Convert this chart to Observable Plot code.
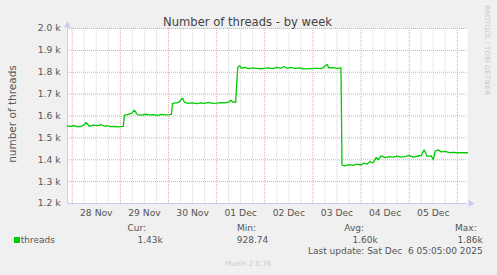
<!DOCTYPE html>
<html><head><meta charset="utf-8">
<script src="https://cdn.jsdelivr.net/npm/d3@7"></script>
<script src="https://cdn.jsdelivr.net/npm/@observablehq/plot@0.6"></script>
<style>
body{margin:0;background:#f0f0f0;}
#chart{width:497px;height:275px;background:#f0f0f0;}
svg text{white-space:pre;}
</style></head><body><div id="chart"></div>
<script>
const title = "Number of threads - by week";
const yLabel = "number of threads";
const seriesName = "threads";
const sideNote = "RRDTOOL / TOBI OETIKER";
const footer = "Munin 2.0.76";
const lastUpdate = "Last update: Sat Dec  6 05:05:00 2025";
// hours since 28 Nov 00:00 (UTC)
const hours = [-2.35,-1,1,3,5,6,7,8.5,10.5,12.5,14.5,16.5,17,19,21,23,25.5,26,27.5,29.5,31,32.5,34.5,36.5,38.5,40.5,42.5,44.5,46.5,48.5,49.5,50,52,53.5,55,56,58,60,62,64,66,68,70,72,74,76,78,79,80,81.5,82.5,83.5,84.5,86,88,90,92,94,96,98,100,102,104,105.5,107,109,111,113,115,117,119,121,123,124.5,126,127,128,130,132,134,134.5,136,138,140,142,144,145.5,147,148.5,150,151.5,152.5,154,156,158,160,162,164,166,168,170,172,174,175.5,177,179,180,181,182.5,184,186,188,190,192,194,197.08];
const threads = [1555,1552,1556,1550,1555,1560,1570,1553,1558,1556,1560,1552,1556,1551,1552,1550,1553,1604,1606,1612,1626,1606,1604,1608,1605,1606,1603,1607,1605,1606,1608,1658,1660,1665,1682,1662,1658,1660,1657,1660,1658,1662,1658,1659,1661,1660,1663,1672,1664,1662,1822,1830,1818,1822,1817,1820,1818,1816,1818,1820,1817,1822,1818,1826,1818,1822,1818,1820,1816,1815,1817,1818,1818,1817,1828,1836,1820,1821,1818,1820,1376,1372,1378,1374,1380,1376,1385,1380,1392,1386,1410,1400,1418,1410,1414,1412,1417,1412,1414,1420,1412,1416,1420,1445,1415,1418,1400,1440,1445,1436,1438,1433,1434,1432,1432,1432];
const yTicks = [1200,1300,1400,1500,1600,1700,1800,1900,2000];
const dayTickHours = [12,36,60,84,108,132,156,180];
const dayTickLabels = ["28 Nov","29 Nov","30 Nov","01 Dec","02 Dec","03 Dec","04 Dec","05 Dec"];
const legendHeads = ["Cur:","Min:","Avg:","Max:"];
const legendValues = ["1.43k","928.74","1.60k","1.86k"];
const startHour = -2.35, endHour = 197.08;

const base = Date.UTC(2025,10,28);
const t = h => new Date(base + h*3600e3);
const data = hours.map((h,i) => ({time: t(h), value: threads[i]}));
const minorGrid = d3.range(0, 197, 6).filter(h => h % 24 !== 0);
const majorGrid = d3.range(0, 197, 24);
const fmtY = d => (d/1000).toFixed(1) + " k";
const txt = "#555";

const plot = Plot.plot({
  width: 497, height: 275,
  marginLeft: 67, marginRight: 30, marginTop: 28, marginBottom: 72,
  style: {fontFamily: "'DejaVu Sans', sans-serif", background: "#f0f0f0", overflow: "visible"},
  x: {type: "utc", domain: [t(startHour), t(endHour)], axis: null},
  y: {domain: [1200, 2000], axis: null},
  marks: [
    Plot.frame({fill: "white", stroke: null}),
    Plot.ruleX(minorGrid, {x: h => t(h), stroke: "#d4d4d4", strokeDasharray: "1,1", y1: 1200, y2: 2000}),
    Plot.ruleY(yTicks.slice(1), {y: d => d, stroke: "#e6a3a3", strokeDasharray: "1,1"}),
    Plot.ruleX(majorGrid, {x: h => t(h), stroke: "#e6a3a3", strokeDasharray: "1,1", y1: 1200, y2: 2000}),
    Plot.ruleX([startHour], {x: h => t(h), stroke: "#c8c8f4", y1: 1200, y2: 2000}),
    Plot.ruleY([1200], {y: d => d, stroke: "#c8c8f4", x1: t(startHour), x2: t(endHour)}),
    Plot.dot([startHour], {x: h => t(h), y: () => 2000, dy: -3, symbol: "triangle", r: 2.6, fill: "#c8c8f4", stroke: null}),
    Plot.dot([endHour], {x: h => t(h), y: () => 1200, dx: 3, symbol: "triangle", rotate: 90, r: 2.6, fill: "#c8c8f4", stroke: null}),
    Plot.line(data, {x: "time", y: "value", stroke: "#00cc00", strokeWidth: 1.3}),
    Plot.text(yTicks, {x: () => t(startHour), y: d => d, text: fmtY, textAnchor: "end", dx: -7, fontSize: 9.2, fill: txt}),
    Plot.text(dayTickHours, {x: h => t(h), y: () => 1200, text: (d, i) => dayTickLabels[i], dy: 10, fontSize: 9.2, fill: txt})
  ]
});
document.getElementById("chart").appendChild(plot);

const svg = d3.select(plot);
const add = (x, y, s, opts = {}) => svg.append("text")
  .attr("x", x).attr("y", y).text(s)
  .attr("font-size", opts.size || 9)
  .attr("fill", opts.fill || txt)
  .attr("text-anchor", opts.anchor || "start")
  .attr("font-family", "'DejaVu Sans', sans-serif")
  .attr("transform", opts.transform || null);

add(247.5, 25.5, title, {size: 11.6, anchor: "middle", fill: "#444"});
svg.append("text").text(yLabel)
  .attr("transform", "translate(15.5,114) rotate(-90)")
  .attr("text-anchor", "middle").attr("font-size", 10.5).attr("fill", txt)
  .attr("font-family", "'DejaVu Sans', sans-serif");
svg.append("text").text(sideNote)
  .attr("transform", "translate(484.5,5) rotate(90)")
  .attr("text-anchor", "start").attr("font-size", 7).attr("fill", "#c8c8c8")
  .attr("font-family", "'DejaVu Sans', sans-serif");

svg.append("rect").attr("x", 14).attr("y", 237).attr("width", 6).attr("height", 6).attr("fill", "#00cc00");
add(20.7, 243, seriesName);
const headEnds = [146, 256, 364, 476.7];
const valEnds = [162.7, 268.3, 377.7, 482.7];
legendHeads.forEach((h, i) => add(headEnds[i], 231, h, {anchor: "end"}));
legendValues.forEach((v, i) => add(valEnds[i], 243, v, {anchor: "end"}));
add(482.7, 254, lastUpdate, {anchor: "end"});
add(225.3, 266, footer, {size: 7, fill: "#cccccc"});
</script></body></html>
